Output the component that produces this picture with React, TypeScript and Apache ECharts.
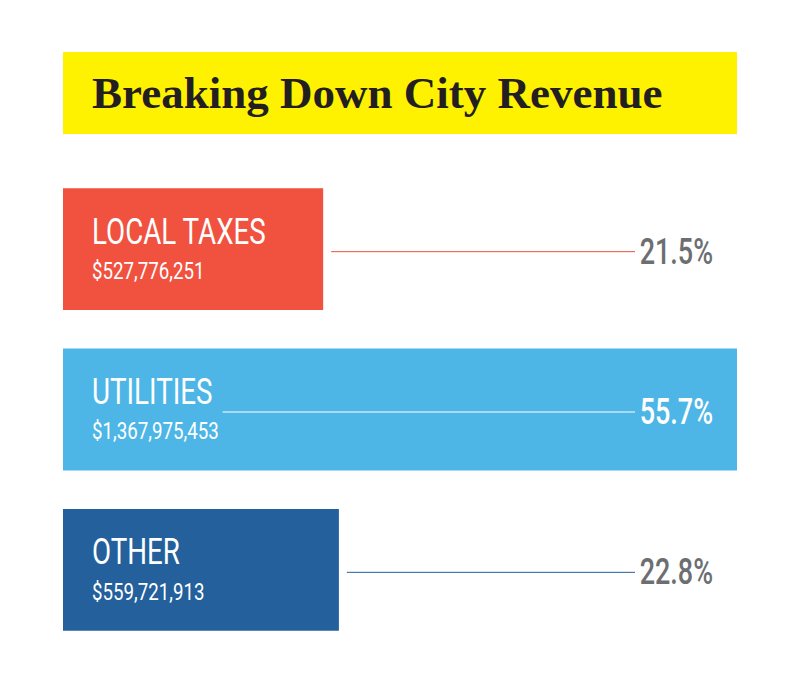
import React, { useEffect, useRef } from "react";
import * as echarts from "echarts";

const title = "Breaking Down City Revenue";
const categories = ["LOCAL TAXES", "UTILITIES", "OTHER"];
const amounts = ["$527,776,251", "$1,367,975,453", "$559,721,913"];
const shares = [21.5, 55.7, 22.8];
const barColors = ["#F0523F", "#4DB6E7", "#23609C"];
const lineColors = ["#E8503D", "#FFFFFF", "#23609C"];
const pctColors = ["#6D6E71", "#FFFFFF", "#6D6E71"];
const xMax = 55.7;

const SANS = "Roboto, 'Liberation Sans', sans-serif";
const SERIF = "'Liberation Serif', 'DejaVu Serif', serif";
const CONDENSE = 0.75;

function measure(text: string, font: string): number {
  const c = document.createElement("canvas");
  const ctx = c.getContext("2d");
  if (!ctx) return text.length * 10;
  ctx.font = font;
  return ctx.measureText(text).width;
}

export default function App() {
  const ref = useRef<HTMLDivElement>(null);
  useEffect(() => {
    if (!ref.current) return;
    const chart = echarts.init(ref.current, null, { renderer: "svg" });
    const nameFont = `37px ${SANS}`;
    const option: any = {
      animation: false,
      backgroundColor: "#FFFFFF",
      grid: { left: 63, right: 63, top: 169, bottom: 50 },
      xAxis: { type: "value", min: 0, max: xMax, show: false },
      yAxis: { type: "category", inverse: true, data: categories, show: false },
      graphic: [
        { type: "rect", shape: { x: 63, y: 52, width: 674, height: 82 }, style: { fill: "#FFF200" }, z: 0 },
        {
          type: "text",
          x: 92,
          y: 93,
          style: {
            text: title,
            font: `bold 45px ${SERIF}`,
            fill: "#231F20",
            verticalAlign: "middle",
            align: "left",
          },
          z: 1,
        },
      ],
      series: [
        {
          type: "bar",
          barCategoryGap: "24%",
          data: shares.map((v, i) => ({ value: v, itemStyle: { color: barColors[i] } })),
          silent: true,
        },
        {
          type: "custom",
          clip: false,
          z: 5,
          data: shares.map((v, i) => [v, i]),
          encode: { x: 0, y: 1 },
          renderItem: (params: any, api: any) => {
            const v = api.value(0);
            const ci = api.value(1);
            const end = api.coord([v, ci]);
            const start = api.coord([0, ci]);
            const right = api.coord([xMax, ci]);
            const cy = end[1];
            const i = params.dataIndex;
            const textX = start[0] + 29;
            const lineEnd = right[0] - 102;
            let lineStart = end[0] + 8;
            if (lineStart > lineEnd) {
              lineStart = textX + measure(categories[i], nameFont) * CONDENSE + 10;
            }
            return {
              type: "group",
              children: [
                {
                  type: "line",
                  shape: { x1: lineStart, y1: cy + 2.5, x2: lineEnd, y2: cy + 2.5 },
                  style: { stroke: lineColors[i], lineWidth: 1 },
                },
                {
                  type: "text",
                  x: right[0] - 24,
                  y: cy + 2,
                  scaleX: CONDENSE,
                  style: {
                    text: v.toFixed(1) + "%",
                    font: `500 36px ${SANS}`,
                    fill: pctColors[i],
                    align: "right",
                    verticalAlign: "middle",
                  },
                },
                {
                  type: "text",
                  x: textX,
                  y: cy - 18,
                  scaleX: CONDENSE,
                  style: {
                    text: categories[i],
                    font: nameFont,
                    fill: "#FFFFFF",
                    align: "left",
                    verticalAlign: "middle",
                  },
                },
                {
                  type: "text",
                  x: textX,
                  y: cy + 21.5,
                  scaleX: 0.78,
                  style: {
                    text: amounts[i],
                    font: `24px ${SANS}`,
                    fill: "#FFFFFF",
                    align: "left",
                    verticalAlign: "middle",
                  },
                },
              ],
            };
          },
        },
      ],
    };
    chart.setOption(option);
    return () => chart.dispose();
  }, []);
  return <div ref={ref} style={{ width: 800, height: 700, position: "absolute", left: 0, top: 0 }} />;
}
